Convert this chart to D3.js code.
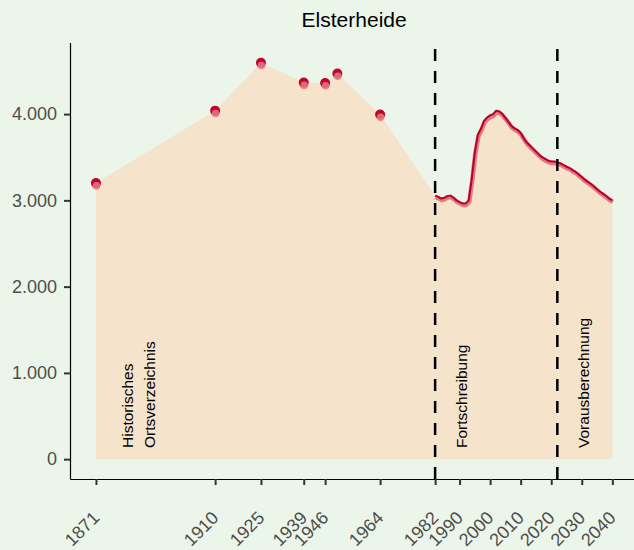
<!DOCTYPE html>
<html>
<head>
<meta charset="utf-8">
<script src="https://cdn.jsdelivr.net/npm/d3@7"></script>
<style>
  body { margin: 0; background: #ecf5ea; }
  svg { display: block; font-family: "Liberation Sans", Arial, sans-serif; }
</style>
</head>
<body>
<div id="chart"></div>
<script>
// Historic census counts (Historisches Ortsverzeichnis)
const histYears = [1871, 1910, 1925, 1939, 1946, 1950, 1964];
const histValues = [3200, 4040, 4595, 4365, 4360, 4470, 3995];

// Yearly series: Fortschreibung 1982-2021, Vorausberechnung 2022-2040
const seriesYears = [
  1982, 1983, 1984, 1985, 1986, 1987, 1988, 1989, 1990, 1991,
  1992, 1993, 1994, 1995, 1996, 1997, 1998, 1999, 2000, 2001,
  2002, 2003, 2004, 2005, 2006, 2007, 2008, 2009, 2010, 2011,
  2012, 2013, 2014, 2015, 2016, 2017, 2018, 2019, 2020, 2021,
  2022, 2023, 2024, 2025, 2026, 2027, 2028, 2029, 2030, 2031,
  2032, 2033, 2034, 2035, 2036, 2037, 2038, 2039, 2040
];
const seriesValues = [
  3055, 3040, 3020, 3030, 3050, 3055, 3030, 3000, 2980, 2965,
  2965, 3000, 3250, 3560, 3760, 3830, 3920, 3960, 3985, 4000,
  4040, 4030, 4000, 3955, 3910, 3860, 3835, 3815, 3780, 3720,
  3670, 3635, 3600, 3565, 3530, 3500, 3480, 3460, 3450, 3450,
  3440, 3430, 3410, 3390, 3375, 3350, 3330, 3300, 3270, 3240,
  3215, 3190, 3160, 3130, 3100, 3075, 3050, 3020, 3000
];

// Axis ticks
const xTicks = [1871, 1910, 1925, 1939, 1946, 1964, 1982, 1990, 2000, 2010, 2020, 2030, 2040];
const yTicks = [0, 1000, 2000, 3000, 4000];

// Source periods: start year and label lines
const periodStarts = [1871, 1982, 2022];
const periodLabels = [["Historisches", "Ortsverzeichnis"], ["Fortschreibung"], ["Vorausberechnung"]];
const breakYears = [1982, 2022];

const title = "Elsterheide";

const width = 634, height = 550;

const svg = d3.select("#chart")
  .append("svg")
  .attr("width", width)
  .attr("height", height);

svg.append("rect")
  .attr("width", width)
  .attr("height", height)
  .attr("fill", "#ecf5ea");

// Scales (domains padded like the original)
const x = d3.scaleLinear().domain([1862.5, 2048.5]).range([70, 638.3]);
const y = d3.scaleLinear().domain([-230, 4830]).range([479, 42.5]);

const de = d3.formatLocale({ decimal: ",", thousands: ".", grouping: [3], currency: ["", " €"] });

const hist = histYears.map((yr, i) => ({ year: yr, value: histValues[i] }));
const series = seriesYears.map((yr, i) => ({ year: yr, value: seriesValues[i] }));
const all = hist.concat(series);

// Area under everything
svg.append("path")
  .datum(all)
  .attr("fill", "#f5e3cc")
  .attr("d", d3.area().x(d => x(d.year)).y0(y(0)).y1(d => y(d.value)));

// Yearly line with soft shadow
const line = d3.line().x(d => x(d.year)).y(d => y(d.value));
svg.append("path")
  .datum(series)
  .attr("fill", "none")
  .attr("stroke", "#dc5f6e")
  .attr("stroke-opacity", 0.8)
  .attr("stroke-width", 4.5)
  .attr("stroke-linejoin", "round")
  .attr("transform", "translate(0.5,1.5)")
  .attr("d", line);
svg.append("path")
  .datum(series)
  .attr("fill", "none")
  .attr("stroke", "#b8002a")
  .attr("stroke-width", 2)
  .attr("stroke-linejoin", "round")
  .attr("d", line);

// Census points: dark dot with a lighter lower half
svg.selectAll(".pt")
  .data(hist)
  .enter()
  .append("circle")
  .attr("class", "pt")
  .attr("cx", d => x(d.year))
  .attr("cy", d => y(d.value))
  .attr("r", 5)
  .attr("fill", "#c0062e");
svg.selectAll(".pt-shade")
  .data(hist)
  .enter()
  .append("circle")
  .attr("class", "pt-shade")
  .attr("cx", d => x(d.year) + 0.5)
  .attr("cy", d => y(d.value) + 2.8)
  .attr("r", 3.8)
  .attr("fill", "#e27a85")
  .attr("fill-opacity", 0.85);

// Period breaks
svg.selectAll(".brk")
  .data(breakYears)
  .enter()
  .append("line")
  .attr("class", "brk")
  .attr("x1", d => x(d)).attr("x2", d => x(d))
  .attr("y1", y.range()[0]).attr("y2", y.range()[1])
  .attr("stroke", "#000")
  .attr("stroke-width", 2.5)
  .attr("stroke-dasharray", "12,10");

// Period labels, rotated
periodStarts.forEach((yr, i) => {
  const lines = periodLabels[i];
  lines.forEach((t, j) => {
    svg.append("text")
      .attr("transform", `translate(${x(yr) + (i === 0 ? 37 : 32) + j * 21.7},448) rotate(-90)`)
      .attr("font-size", 15.5)
      .attr("fill", "#000")
      .text(t);
  });
});

// Axes
const yAxis = svg.append("g")
  .attr("transform", `translate(${x.range()[0]},0)`)
  .call(d3.axisLeft(y).tickValues(yTicks).tickSize(6).tickSizeOuter(0).tickPadding(7)
    .tickFormat(d => de.format(",")(d)));

const xAxis = svg.append("g")
  .attr("transform", `translate(0,${y.range()[0]})`)
  .call(d3.axisBottom(x).tickValues(xTicks).tickSize(6).tickSizeOuter(0).tickFormat(d3.format("d")));

[yAxis, xAxis].forEach(g => {
  g.select(".domain").attr("stroke", "#000").attr("stroke-width", 1.2);
  g.selectAll(".tick line").attr("stroke", "#333").attr("stroke-width", 2);
  g.selectAll(".tick text").attr("fill", "#4d4d4d").attr("font-size", 18);
});

// rotated year labels
xAxis.selectAll(".tick text")
  .attr("x", null).attr("y", null).attr("dy", null)
  .attr("text-anchor", "end")
  .attr("transform", "translate(4,40) rotate(-45)");

// Title
svg.append("text")
  .attr("x", (x.range()[0] + x.range()[1]) / 2)
  .attr("y", 27)
  .attr("text-anchor", "middle")
  .attr("font-size", 21)
  .attr("fill", "#000")
  .text(title);
</script>
</body>
</html>
